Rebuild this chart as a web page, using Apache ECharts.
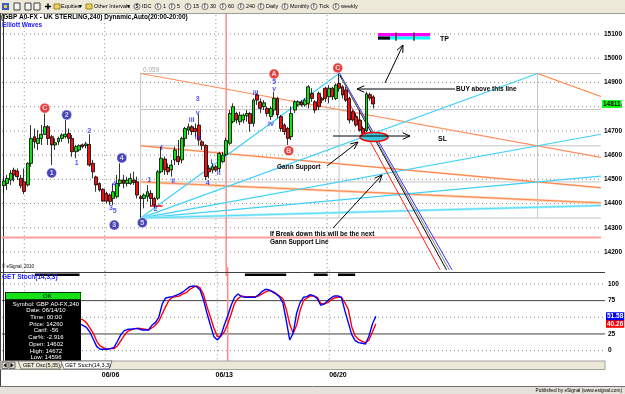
<!DOCTYPE html>
<html><head><meta charset="utf-8">
<script src="https://cdn.jsdelivr.net/npm/echarts/dist/echarts.min.js"></script>
<style>html,body{margin:0;padding:0;background:#fff}#c{width:625px;height:394px}</style>
</head><body><div id="c"></div>
<script>
// ---------------- DATA ----------------
const N_SLOTS = 175;                       // 4-hour bar slots on the time axis
const dateLabels = {31: '06/06', 64: '06/13', 97: '06/20'};
const weekLines = [6, 29.5, 62, 94.5];      // dotted vertical grid (bar units)
const priceTicks = [14200,14300,14400,14500,14600,14700,14800,14900,15000,15100];
const stochTicks = [0, 25, 75, 100];
// [open, close, low, high]
const candles = [
[14474,14493,14442,14511],[14483,14504,14456,14518],[14497,14525,14477,14538],[14538,14518,14490,14548],
[14534,14511,14497,14545],[14504,14474,14463,14518],[14490,14450,14439,14545],[14477,14566,14470,14570],
[14566,14669,14552,14724],[14676,14655,14628,14710],[14648,14669,14621,14703],[14669,14686,14642,14724],
[14686,14717,14683,14772],[14717,14669,14642,14724],[14676,14642,14559,14683],[14642,14651,14621,14669],
[14655,14669,14642,14676],[14669,14683,14655,14690],[14676,14686,14669,14745],[14690,14669,14648,14710],
[14669,14614,14593,14683],[14614,14635,14587,14642],[14621,14639,14614,14644],[14642,14635,14628,14648],
[14639,14646,14628,14655],[14644,14559,14552,14686],[14566,14531,14504,14580],[14510,14477,14449,14515],
[14483,14456,14449,14487],[14459,14410,14408,14463],[14442,14410,14401,14449],[14435,14408,14394,14442],
[14421,14449,14394,14483],[14428,14483,14421,14518],[14483,14497,14470,14566],[14497,14483,14463,14518],
[14483,14497,14470,14511],[14483,14504,14477,14525],[14497,14487,14477,14531],[14490,14435,14421,14511],
[14428,14421,14340,14435],[14421,14435,14380,14442],
[14428,14449,14408,14476],[14442,14421,14387,14456],[14421,14394,14380,14428],[14422,14531,14415,14538],
[14531,14587,14525,14635],[14584,14539,14518,14594],[14549,14531,14518,14566],[14539,14559,14511,14580],
[14580,14621,14559,14635],[14594,14573,14559,14662],[14580,14669,14566,14676],[14669,14710,14635,14717],
[14703,14717,14683,14731],[14717,14697,14683,14724],[14710,14697,14676,14731],[14724,14662,14640,14768],
[14655,14640,14621,14662],[14640,14511,14497,14645],[14545,14531,14504,14559],[14538,14552,14525,14566],
[14552,14538,14531,14559],[14545,14607,14531,14614],[14573,14600,14566,14614],[14602,14660,14596,14672],
[14649,14772,14642,14786],[14738,14800,14731,14814],[14772,14745,14731,14779],[14738,14765,14724,14779],
[14745,14765,14731,14772],[14762,14772,14738,14786],[14772,14731,14697,14779],[14731,14827,14717,14834],
[14848,14827,14807,14855],
[14820,14793,14773,14834],[14800,14816,14786,14827],[14793,14772,14759,14800],[14759,14793,14745,14800],
[14786,14834,14765,14862],[14834,14766,14752,14841],[14759,14710,14697,14766],[14724,14697,14683,14731],
[14710,14669,14642,14717],[14676,14772,14662,14800],[14786,14820,14773,14827],[14807,14820,14800,14827],
[14820,14807,14800,14827],[14807,14827,14800,14834],[14814,14882,14793,14889],[14855,14834,14820,14876],
[14820,14786,14773,14827],[14855,14800,14786,14862],[14834,14827,14814,14841],[14876,14834,14820,14882],
[14841,14876,14814,14889],[14876,14841,14827,14882],[14834,14889,14827,14896],[14896,14876,14862,14937],
[14882,14848,14834,14889],[14869,14827,14820,14882],[14834,14745,14731,14841],[14779,14745,14738,14786],
[14759,14724,14717,14773],[14745,14703,14697,14786],[14710,14690,14683,14717],[14700,14853,14695,14862],
[14850,14835,14825,14858],[14840,14811,14792,14847]
];
const lastPrice = 14811;
const cursorBar = 65, cursorPrice = 14260;
const _ = null;
const stochK = [_,_,_,_,_,_,_,_,_,_,_,_,_,_,_,_,_,_,_,_,_,_,
40,38,35,28,17,6,2,2,2,3,5,14,24,30,32,32,33,33,31,31,31,38,42,50,70,79,80,81,83,85,88,92,96,97,96,91,76,56,38,21,16,22,38,52,68,80,85,81,80,80,80,80,84,89,92,91,88,85,81,72,45,16,26,56,72,80,81,84,82,78,68,70,75,79,82,82,80,60,42,24,15,12,11,10,22,40,51.58];
const stochD = [_,_,_,_,_,_,_,_,_,_,_,_,_,_,_,_,_,_,_,_,_,_,
48,46,42,34,26,14,7,4,2.5,3,3,7,15,23,29,31,33,33.5,33,32,31,34,38,44,55,66,76,80,81,82,85,87,92,95,97,94,84,66,50,34,21,22,28,40,55,71,78,82,81,81,81,81,82,85,88,90,89,86,82,78,62,40,26,38,60,75,79,82,82,80,71,70,72,76,79,80,80,72,62,36,22,17,14,12,16,28,40.26];
const signalRuns = [[9,22],[70,82],[90,94],[97,102]];
// Elliott wave marks: [bar, price, text]
const waveCirclesRed = [[12.0,14794,'C'],[79.0,14935,'A'],[83.3,14618,'B'],[97.6,14960,'C']];
const waveCirclesBlue = [[18.4,14766,'2'],[14.0,14526,'1'],[34.5,14588,'4'],[32.3,14311,'3'],[40.5,14321,'5']];
const waveTexts = [[21.3,14567,'1'],[25.0,14700,'2'],[32.3,14481,'4'],[31.3,14383,'3'],[32.4,14367,'5'],
 [42.5,14497,'1'],[44.4,14376,'2'],[46.2,14628,'I'],[49.5,14494,'ii'],[54.9,14745,'iii'],[56.7,14675,'iv'],
 [56.7,14832,'3'],[56.7,14774,'v'],[59.6,14485,'4'],[60.7,14573,'i'],[62.8,14527,'ii'],[73.6,14858,'iii'],
 [78.1,14728,'iv'],[79.0,14903,'5'],[79.0,14873,'v']];
const tooltipLines = ['Symbol: GBP A0-FX,240','Date: 06/14/10','Time: 00:00','Price: 14260','Carif: -56','Car%: -2.916','Open: 14602','High: 14672','Low: 14596'];
const toolbarItems = [['S','IDC'],['I','1'],['I','5'],['I','15'],['I','30'],['I','60'],['I','240'],['I','Daily'],['I','Monthly'],['I','Tick'],['I','weekly']];
const toolbarX = [134,155,169,185,202,220,238,258,282,311,333];

// ---------------- BUILD ----------------
const FONT = '"Liberation Sans", Arial, sans-serif';
const EDGE = N_SLOTS - 0.5;
const cats = Array.from({length: N_SLOTS}, (_, i) => String(i));
const boxStart = 40, boxMid = 98, boxEnd = boxStart + 2 * (boxMid - boxStart);
const boxLow = candles[boxStart][2], boxHigh = candles[boxMid][3], rng = boxHigh - boxLow;
const ext = (x0, y0, x1, y1, xe) => y0 + (y1 - y0) * (xe - x0) / (x1 - x0);
const CLEAR = 'rgba(0,0,0,0)';

const series = [];
function seg(x1, y1, x2, y2, color, width, type, z, grid) {
  series.push({type: 'line', xAxisIndex: grid ? 3 : 1, yAxisIndex: grid ? 1 : 0,
    data: [[x1, y1], [x2, y2]], symbol: 'none', silent: true, animation: false, z: z || 2,
    lineStyle: {color, width, type: type || 'solid'}});
}
const DOT = [1, 3];
// main grid dotted lines
priceTicks.forEach(p => seg(-0.5, p, EDGE, p, '#8a8a8a', 1, DOT, 1));
weekLines.forEach(b => seg(b, 14100, b, 15200, '#8a8a8a', 1, DOT, 1));
// Gann box
for (let k = 0; k <= 4; k++) seg(boxStart, boxLow + rng * k / 4, EDGE, boxLow + rng * k / 4, '#c4c4c4', 1, 'solid', 1);
[boxStart, boxMid, boxEnd].forEach(b => seg(b, boxLow, b, boxHigh, '#c4c4c4', 1, 'solid', 1));
// crosshair
seg(-0.5, cursorPrice, EDGE, cursorPrice, '#ff9c9c', 2, 'solid', 1);
seg(cursorBar, 14100, cursorBar, 15200, '#ff8a8a', 1.5, 'solid', 1);
// orange fan (from left side of box)
seg(boxStart, boxHigh, EDGE, ext(boxStart, boxHigh, boxEnd, boxLow + rng / 2, EDGE), '#ff9060', 1.2);
seg(boxStart, boxLow + rng / 2, EDGE, ext(boxStart, boxLow + rng / 2, boxEnd, boxLow + rng / 4, EDGE), '#ffd2bc', 2);
seg(boxStart, boxLow + rng / 2, EDGE, ext(boxStart, boxLow + rng / 2, boxEnd, boxLow + rng / 4, EDGE), '#ff8040', 1);
seg(boxStart, boxLow + rng / 4, EDGE, ext(boxStart, boxLow + rng / 4, boxEnd, boxLow + rng / 8, EDGE), '#ffcdb4', 2.5);
seg(boxStart, boxLow + rng / 4, EDGE, ext(boxStart, boxLow + rng / 4, boxEnd, boxLow + rng / 8, EDGE), '#ff8848', 1);
seg(boxEnd, boxHigh, EDGE, ext(boxEnd, boxHigh, boxEnd + (boxEnd - boxStart), boxLow, EDGE), '#ff8040', 1.2);
// cyan fan from the wave-5 low
seg(boxStart, boxLow, boxMid, boxHigh, '#40d0f8', 1.2);
seg(boxStart, boxLow, boxEnd, boxHigh, '#40d0f8', 1.2);
seg(boxStart, boxLow, EDGE, ext(boxStart, boxLow, boxEnd, boxLow + rng / 2, EDGE), '#40d0f8', 1.2);
seg(boxStart, boxLow, EDGE, ext(boxStart, boxLow, boxEnd, boxLow + rng / 4, EDGE), '#40d0f8', 1.2);
seg(boxStart, boxLow, EDGE, ext(boxStart, boxLow, boxEnd, boxLow + rng * 0.075, EDGE), '#a8eefc', 2.5);
seg(boxStart, boxLow, EDGE, ext(boxStart, boxLow, boxEnd, boxLow + rng * 0.075, EDGE), '#40d8f8', 0.8);
// descending channel from C
seg(98, 14941, 131, 14126, '#3030ff', 1, 'solid', 3);
seg(98.2, 14930, 129.4, 14126, '#000000', 1, 'solid', 3);
seg(98.8, 14915, 130.2, 14126, '#808080', 1, 'solid', 3);
seg(100.5, 14827, 127.5, 14126, '#ff2020', 1, 'solid', 3);
// small red line at wave 2
seg(43.0, 14390, 46.4, 14390, '#ff0000', 1.5, 'solid', 3);

// candles
series.push({type: 'candlestick', xAxisIndex: 0, yAxisIndex: 0, data: candles, barWidth: 3.4, z: 5,
  animation: false, silent: true,
  itemStyle: {color: '#12e012', color0: '#ee1111', borderColor: '#000', borderColor0: '#000', borderWidth: 0.8},
  markLine: {silent: true, symbol: ['none', 'none'], animation: false,
    lineStyle: {color: CLEAR, width: 0},
    data: [{yAxis: lastPrice}],
    label: {show: true, position: 'end', distance: 1, formatter: String(lastPrice), backgroundColor: '#19ff19',
      color: '#000', fontSize: 6.5, fontWeight: 'bold', fontFamily: FONT, padding: [1, 1, 0, 1]}}});

// wave labels
function circles(list, col) {
  series.push({type: 'scatter', xAxisIndex: 1, yAxisIndex: 0, symbol: 'circle', symbolSize: 10, z: 7,
    silent: true, animation: false,
    itemStyle: {color: col, borderColor: '#ffffff', borderWidth: 0.6},
    label: {show: true, position: 'inside', color: '#fff', fontSize: 7, fontWeight: 'bold', fontFamily: FONT},
    data: list.map(d => ({value: [d[0], d[1]], label: {formatter: d[2]}}))});
}
circles(waveCirclesRed, '#e01010');
circles(waveCirclesBlue, '#1818a8');
series.push({type: 'scatter', xAxisIndex: 1, yAxisIndex: 0, symbolSize: 2, z: 7, silent: true, animation: false,
  itemStyle: {color: CLEAR},
  label: {show: true, position: 'inside', color: '#1f1fff', fontSize: 7, fontWeight: 'bold', fontFamily: FONT},
  data: waveTexts.map(d => ({value: [d[0], d[1]], label: {formatter: d[2]}}))});

// stochastic panel
[100, 50, 0].forEach(v => seg(-0.5, v, EDGE, v, '#8a8a8a', 1, DOT, 1, true));
[75, 25].forEach(v => seg(-0.5, v, EDGE, v, '#404040', 1, 'solid', 1, true));
weekLines.forEach(b => seg(b, -25, b, 125, '#8a8a8a', 1, DOT, 1, true));
seg(cursorBar, -25, cursorBar, 125, '#ff8a8a', 1.5, 'solid', 1, true);
const sig = stochK.map((_, i) => signalRuns.some(r => i >= r[0] && i <= r[1]) ? 114 : null);
series.push({type: 'line', xAxisIndex: 2, yAxisIndex: 1, data: sig, symbol: 'none', silent: true, animation: false,
  lineStyle: {color: '#000', width: 2.5}, z: 3});
function stochLine(data, color, lab) {
  series.push({type: 'line', xAxisIndex: 2, yAxisIndex: 1, data, symbol: 'none', silent: true, animation: false,
    lineStyle: {color, width: 1.4}, z: 4,
    markLine: {silent: true, symbol: ['none', 'none'], animation: false, lineStyle: {color: CLEAR, width: 0},
      data: [{yAxis: lab}],
      label: {show: true, position: 'end', distance: 1, formatter: lab.toFixed(2), backgroundColor: color, color: '#fff',
        fontSize: 6.5, fontWeight: 'bold', fontFamily: FONT, padding: [1, 1, 0, 1]}}});
}
stochLine(stochD, '#ff0000', stochD[stochD.length - 1]);
stochLine(stochK, '#0000ff', stochK[stochK.length - 1]);

// ---------------- GRAPHICS (annotations / chrome) ----------------
const G = [];
function txt(x, y, text, o) {
  o = o || {};
  G.push({type: 'text', x, y, z: 100, silent: true, style: Object.assign({text, fill: '#000',
    font: (o.w || 'bold') + ' ' + (o.s || 7) + 'px ' + FONT, align: o.a || 'left', textAlign: o.a || 'left',
    verticalAlign: 'middle', textVerticalAlign: 'middle'}, o.st || {})});
}
function ln(x1, y1, x2, y2, c, w) {
  G.push({type: 'line', z: 100, silent: true, shape: {x1, y1, x2, y2}, style: {stroke: c || '#000', lineWidth: w || 1}});
}
function rect(x, y, w, h, fill, stroke, z) {
  G.push({type: 'rect', z: z || 100, silent: true, shape: {x, y, width: w, height: h},
    style: {fill, stroke: stroke || null, lineWidth: stroke ? 1 : 0}});
}
function arrow(x1, y1, x2, y2) {
  const a = Math.atan2(y2 - y1, x2 - x1), L = 8, s = 0.42;
  ln(x1, y1, x2, y2);
  G.push({type: 'polyline', z: 100, silent: true,
    shape: {points: [[x2 - L * Math.cos(a - s), y2 - L * Math.sin(a - s)], [x2, y2],
      [x2 - L * Math.cos(a + s), y2 - L * Math.sin(a + s)]]}, style: {stroke: '#000', lineWidth: 1, fill: null}});
}
// toolbar
rect(0, 0, 625, 13, '#ece9d8');
ln(0, 13.5, 625, 13.5, '#9c9c9c');
rect(2, 3, 7, 7, '#3a5fc8'); rect(4, 5, 3, 3, '#f0d040');
rect(14, 3, 6, 7, '#f4f4f4', '#404040'); rect(25, 3, 6, 7, '#f4f4f4', '#404040'); rect(34, 3, 6, 7, '#f4f4f4', '#404040');
ln(45, 6.5, 51, 6.5, '#000', 1.5); ln(48, 3.5, 48, 9.5, '#000', 1.5);
rect(54, 4, 6, 5, '#f0d060', '#a08020'); txt(61, 6.8, 'Equities', {w: 'normal', s: 5.5});
txt(79, 6.8, '▾', {w: 'normal', s: 6});
rect(86, 4, 6, 5, '#f0d060', '#a08020'); txt(94, 6.8, 'Other Intervals', {w: 'normal', s: 5.5});
txt(127, 6.8, '▾', {w: 'normal', s: 6});
toolbarItems.forEach(([ic, lb], i) => {
  const tx = toolbarX[i];
  G.push({type: 'circle', z: 100, silent: true, shape: {cx: tx + 3, cy: 6.5, r: 3}, style: {fill: '#fff', stroke: '#303030', lineWidth: 0.7}});
  txt(tx + 3, 6.7, ic, {w: 'bold', s: 4.5, a: 'center'});
  txt(tx + 8, 6.8, lb, {w: 'normal', s: 5.5});
});
// frame
ln(0.5, 13, 0.5, 386, '#404040');
ln(0, 272.5, 605, 272.5, '#404040');
// titles
txt(1, 17.5, '(GBP A0-FX - UK STERLING,240) Dynamic,Auto(20:00-20:00)', {s: 6.5});
txt(2, 25.5, 'Elliott Waves', {s: 6.5, st: {fill: '#1a1aff'}});
txt(143, 70, '0.059', {w: 'normal', s: 6.5, st: {fill: '#a8a8a8'}});
txt(2, 266.5, '© eSignal, 2010', {w: 'normal', s: 4.5});
txt(2, 277.5, 'GET Stoch(14,3,3)', {s: 6.5, st: {fill: '#1a1aff'}});
// TP target bar
rect(378, 33, 52, 3.6, '#ff00ff'); rect(378, 36.6, 52, 3, '#00ffff'); rect(378, 36.6, 12, 3, '#000');
ln(396, 32.5, 396, 40.8, '#000', 1.2); ln(414, 32.5, 414, 40.8, '#000', 1.2);
txt(440, 39.5, 'TP', {s: 7});
arrow(385, 83, 403, 45);
// BUY
arrow(455, 89, 357, 89);
txt(456, 89.5, 'BUY above this line', {s: 6.5});
// SL
G.push({type: 'ellipse', z: 99, silent: true, shape: {cx: 374, cy: 137, rx: 14, ry: 4.5},
  style: {fill: '#38c8dc', stroke: '#ff0000', lineWidth: 1.5}});
arrow(333, 136, 410, 136);
txt(438, 139, 'SL', {s: 7});
// Gann support notes
txt(277, 167, 'Gann Support', {s: 6.5});
arrow(327, 166, 358, 142);
txt(270, 234, 'If Break down this will be the next', {s: 6.5});
txt(270, 242, 'Gann Support Line', {s: 6.5});
arrow(333, 228, 382, 175);
// cursor window
rect(5, 292, 76, 70, '#000');
rect(6, 292.7, 74.5, 6.6, '#16e016');
txt(43, 296.2, 'OK', {w: 'normal', s: 6});
tooltipLines.forEach((t, i) => txt(46, 304 + i * 6.7, t, {w: 'normal', s: 6, a: 'center', st: {fill: '#fff'}}));
// tab bar
rect(0.5, 361, 604.5, 8.5, '#ece9d8', '#a0a0a0');
rect(2, 362, 6, 6.5, '#d8d4c8', '#707070'); rect(9, 362, 6, 6.5, '#d8d4c8', '#707070');
G.push({type: 'polygon', z: 101, silent: true, shape: {points: [[6.5, 363], [6.5, 367.5], [3.5, 365.2]]}, style: {fill: '#000'}});
G.push({type: 'polygon', z: 101, silent: true, shape: {points: [[10.5, 363], [10.5, 367.5], [13.5, 365.2]]}, style: {fill: '#000'}});
G.push({type: 'polygon', z: 100, silent: true, shape: {points: [[18, 361], [21, 369], [60, 369], [63, 361]]}, style: {fill: '#ece9d8', stroke: '#606060', lineWidth: 0.8}});
G.push({type: 'polygon', z: 100, silent: true, shape: {points: [[61, 361], [64, 369], [109, 369], [112, 361]]}, style: {fill: '#ffffff', stroke: '#606060', lineWidth: 0.8}});
txt(23, 365.3, 'GET Osc(5,35)', {w: 'normal', s: 5.5});
txt(65, 365.3, 'GET Stoch(14,3,3)', {w: 'normal', s: 5.5});
// footer
ln(0, 386.5, 625, 386.5, '#707070');
rect(0, 387, 625, 7, '#e4e2da');
txt(622, 390.5, 'Published by eSignal (www.esignal.com)', {w: 'normal', s: 4.8, a: 'right'});

// ---------------- OPTION ----------------
const chart = echarts.init(document.getElementById('c'), null, {renderer: 'canvas'});
const axLab = {fontSize: 6.5, fontWeight: 'bold', color: '#000', fontFamily: FONT, margin: 3};
chart.setOption({
  animation: false,
  backgroundColor: '#ffffff',
  grid: [
    {left: 2, right: 20, top: 9.8, height: 266.4},
    {left: 2, right: 20, top: 267.3, height: 100}
  ],
  xAxis: [
    {type: 'category', gridIndex: 0, data: cats, show: false},
    {type: 'value', gridIndex: 0, min: -0.5, max: EDGE, show: false},
    {type: 'category', gridIndex: 1, data: cats, axisLine: {show: false}, axisTick: {show: false},
      splitLine: {show: false},
      axisLabel: {interval: 0, margin: 4, fontSize: 7, fontWeight: 'bold', color: '#000', fontFamily: FONT,
        formatter: (v, i) => dateLabels[i] || ''}},
    {type: 'value', gridIndex: 1, min: -0.5, max: EDGE, show: false}
  ],
  yAxis: [
    {type: 'value', gridIndex: 0, position: 'right', min: 14100, max: 15200, interval: 100,
      axisLine: {show: true, lineStyle: {color: '#303030', width: 1}}, axisTick: {show: false}, splitLine: {show: false},
      axisLabel: Object.assign({formatter: v => priceTicks.includes(v) ? String(v) : ''}, axLab)},
    {type: 'value', gridIndex: 1, position: 'right', min: -25, max: 125, interval: 25,
      axisLine: {show: true, lineStyle: {color: '#303030', width: 1}}, axisTick: {show: false}, splitLine: {show: false},
      axisLabel: Object.assign({formatter: v => stochTicks.includes(v) ? String(v) : ''}, axLab)}
  ],
  series,
  graphic: G
});
</script>
</body></html>
